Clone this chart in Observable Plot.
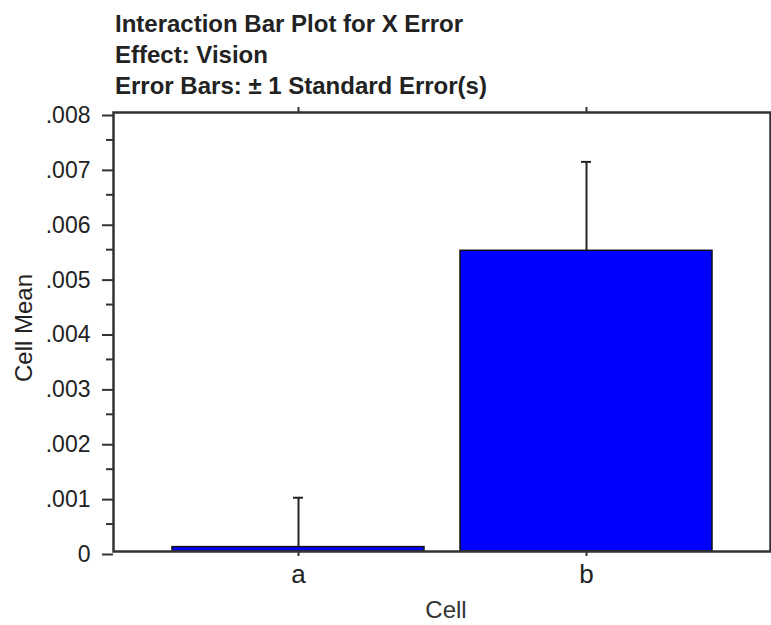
<!DOCTYPE html>
<html>
<head>
<meta charset="utf-8">
<script src="https://cdn.jsdelivr.net/npm/d3@7"></script>
<script src="https://cdn.jsdelivr.net/npm/@observablehq/plot@0.6"></script>
<style>
  body { margin: 0; background: #fff; }
  #title {
    box-sizing: border-box;
    height: 96px;
    padding: 8px 0 0 115px;
    font: bold 24px "Liberation Sans", Arial, sans-serif;
    line-height: 31px;
    color: #222;
  }
  #chart svg { display: block; }
</style>
</head>
<body>
<div id="title">
  <div>Interaction Bar Plot for X Error</div>
  <div>Effect: Vision</div>
  <div>Error Bars: ± 1 Standard Error(s)</div>
</div>
<div id="chart"></div>
<script>
// Cell means with ±1 standard error
const cells = ["a", "b"];
const means = [0.00008, 0.00548];
const stdErrors = [0.0009, 0.00162];

const yMajorTicks = [0, 0.001, 0.002, 0.003, 0.004, 0.005, 0.006, 0.007, 0.008];
const yMinorTicks = [0.0005, 0.0015, 0.0025, 0.0035, 0.0045, 0.0055, 0.0065, 0.0075];
const xLabel = "Cell";
const yLabel = "Cell Mean";

const rows = cells.map((c, i) => ({cell: c, mean: means[i], se: stdErrors[i]}));

const fmt = (d) => d === 0 ? "0" : d3.format(".3f")(d).replace(/^0/, "");
const font = "Liberation Sans, Arial, sans-serif";

const chart = Plot.plot({
  width: 771,
  height: 529,
  marginTop: 16,
  marginLeft: 113,
  marginRight: 1,
  marginBottom: 74,
  style: {fontFamily: font, color: "#222", background: "#fff"},
  x: {domain: cells, paddingInner: 0.125, paddingOuter: 0.2},
  y: {domain: [0, 0.008]},
  marks: [
    Plot.barY(rows, {x: "cell", y: "mean", fill: "#0000ff", stroke: "#111", strokeWidth: 1.5}),
    Plot.ruleX(rows, {x: "cell", y1: "mean", y2: (d) => d.mean + d.se, stroke: "#222", strokeWidth: 2}),
    Plot.tickY(rows, {x: "cell", y: (d) => d.mean + d.se, stroke: "#222", strokeWidth: 2, insetLeft: 121, insetRight: 121}),
    Plot.frame({stroke: "#333", strokeWidth: 2.5}),
    Plot.axisY({ticks: yMajorTicks, tickFormat: fmt, tickSize: 11, tickPadding: 12, fontSize: 23, dy: 3, strokeWidth: 2, stroke: "#333", label: null}),
    Plot.axisY({ticks: yMinorTicks, tickFormat: () => "", tickSize: 7, strokeWidth: 2, stroke: "#333", label: null}),
    Plot.axisX({anchor: "bottom", tickSize: 5, tickPadding: 8, fontSize: 26, strokeWidth: 2, stroke: "#333", label: null}),
    Plot.axisX({anchor: "top", tickSize: 6, tickFormat: () => "", strokeWidth: 2, stroke: "#333", label: null}),
    Plot.text([xLabel], {frameAnchor: "bottom", text: (d) => d, dy: 66, dx: 4, fontSize: 24, fill: "#333"}),
    Plot.text([yLabel], {frameAnchor: "left", textAnchor: "middle", text: (d) => d, dx: -89.5, dy: -4, rotate: -90, fontSize: 24, fill: "#222"})
  ]
});
document.getElementById("chart").append(chart);
</script>
</body>
</html>
